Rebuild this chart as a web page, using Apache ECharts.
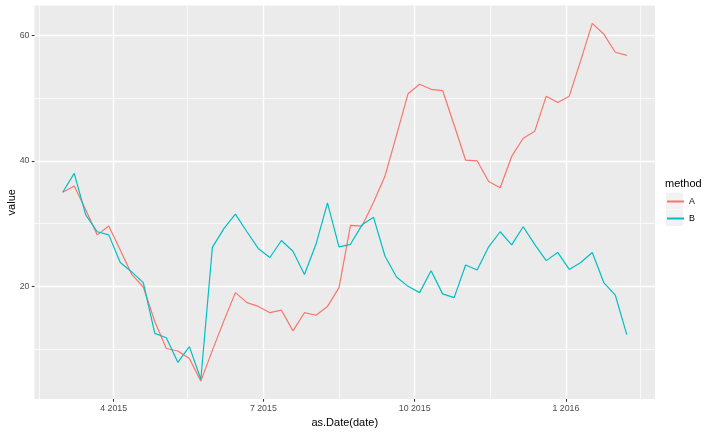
<!DOCTYPE html>
<html>
<head>
<meta charset="utf-8">
<title>value by method</title>
<script src="https://cdn.jsdelivr.net/npm/echarts@6.0.0/dist/echarts.min.js"></script>
<style>
  html, body { margin: 0; padding: 0; background: #fff; }
  #chart { width: 720px; height: 432px; }
</style>
</head>
<body>
<div id="chart"></div>
<script>
// weekly observations
const dates = [
  '2015-03-01', '2015-03-08', '2015-03-15', '2015-03-22', '2015-03-29',
  '2015-04-05', '2015-04-12', '2015-04-19', '2015-04-26',
  '2015-05-03', '2015-05-10', '2015-05-17', '2015-05-24', '2015-05-31',
  '2015-06-07', '2015-06-14', '2015-06-21', '2015-06-28',
  '2015-07-05', '2015-07-12', '2015-07-19', '2015-07-26',
  '2015-08-02', '2015-08-09', '2015-08-16', '2015-08-23', '2015-08-30',
  '2015-09-06', '2015-09-13', '2015-09-20', '2015-09-27',
  '2015-10-04', '2015-10-11', '2015-10-18', '2015-10-25',
  '2015-11-01', '2015-11-08', '2015-11-15', '2015-11-22', '2015-11-29',
  '2015-12-06', '2015-12-13', '2015-12-20', '2015-12-27',
  '2016-01-03', '2016-01-10', '2016-01-17', '2016-01-24', '2016-01-31',
  '2016-02-07'
]
const methodA = [
  35.0, 36.0, 32.2, 28.2, 29.6, 25.8, 21.9, 19.9, 14.4, 10.1,
  9.7, 8.5, 4.9, 9.8, 14.5, 19.0, 17.4, 16.8, 15.8, 16.2,
  12.9, 15.8, 15.4, 16.8, 19.8, 29.7, 29.6, 33.4, 37.6, 44.1,
  50.7, 52.2, 51.4, 51.2, 45.7, 40.1, 40.0, 36.7, 35.7, 40.7,
  43.6, 44.7, 50.3, 49.3, 50.3, 56.0, 61.9, 60.2, 57.3, 56.8
]
const methodB = [
  35.0, 38.0, 31.4, 28.7, 28.2, 23.8, 22.3, 20.6, 12.5, 11.8,
  7.9, 10.4, 5.2, 26.2, 29.2, 31.5, 28.7, 26.0, 24.6, 27.3,
  25.6, 21.9, 26.7, 33.3, 26.3, 26.7, 29.8, 31.0, 24.8, 21.5,
  20.0, 19.0, 22.5, 18.8, 18.2, 23.4, 22.6, 26.3, 28.7, 26.6,
  29.5, 26.7, 24.1, 25.4, 22.7, 23.8, 25.4, 20.6, 18.6, 12.3
]
const xBreaks = ['2015-04-01', '2015-07-01', '2015-10-01', '2016-01-01']
const xMinorBreaks = ['2015-02-15', '2015-05-16', '2015-08-16', '2015-11-16', '2016-02-15']
const yBreaks = [20, 40, 60]
const yMinorBreaks = [10, 30, 50]

// days since epoch, so the x axis can be a plain value axis
function toDay(s) {
  const p = s.split('-').map(Number)
  return Date.UTC(p[0], p[1] - 1, p[2]) / 86400000
}

const xs = dates.map(toDay)
const xPad = (xs[xs.length - 1] - xs[0]) * 0.05
const allValues = methodA.concat(methodB)
const yLo = Math.min(...allValues)
const yHi = Math.max(...allValues)
const yPad = (yHi - yLo) * 0.05

const font = 'Liberation Sans, Arial, sans-serif'

const chart = echarts.init(document.getElementById('chart'))
chart.setOption({
  animation: false,
  textStyle: { fontFamily: font },
  title: {
    text: 'method',
    left: 665,
    top: 178,
    padding: 0,
    textStyle: { fontSize: 11, fontWeight: 'normal', color: '#000', fontFamily: font }
  },
  legend: {
    data: ['A', 'B'],
    orient: 'vertical',
    left: 666,
    top: 193,
    padding: 0,
    itemGap: 0,
    itemWidth: 17,
    itemHeight: 17,
    itemStyle: { opacity: 0 },
    textStyle: { fontSize: 8.8, color: '#000', fontFamily: font, height: 17, lineHeight: 17 }
  },
  graphic: [
    { type: 'rect', left: 666, top: 192.5, shape: { width: 17, height: 16.5 }, style: { fill: '#F2F2F2' } },
    { type: 'rect', left: 666, top: 209.5, shape: { width: 17, height: 16.5 }, style: { fill: '#F2F2F2' } }
  ],
  grid: {
    left: 34.5,
    right: 65,
    top: 5.5,
    bottom: 33,
    containLabel: false,
    outerBoundsMode: 'none',
    show: true,
    backgroundColor: '#EBEBEB',
    borderWidth: 0
  },
  xAxis: [
    {
      type: 'value',
      min: xs[0] - xPad,
      max: xs[xs.length - 1] + xPad,
      name: 'as.Date(date)',
      nameLocation: 'middle',
      nameGap: 16,
      nameTextStyle: { color: '#000', fontSize: 11, fontFamily: font },
      axisLine: { show: false },
      axisTick: {
        show: true,
        customValues: xBreaks.map(toDay),
        length: 2.75,
        lineStyle: { color: '#333333', width: 1.07 }
      },
      axisLabel: {
        customValues: xBreaks.map(toDay),
        margin: 5,
        fontSize: 8.8,
        color: '#4D4D4D',
        fontFamily: font,
        formatter: function (v) {
          const d = new Date(v * 86400000)
          return (d.getUTCMonth() + 1) + ' ' + d.getUTCFullYear()
        }
      },
      splitLine: { show: true, lineStyle: { color: '#FFFFFF', width: 1.4 } }
    },
    {
      type: 'value',
      min: xs[0] - xPad,
      max: xs[xs.length - 1] + xPad,
      position: 'bottom',
      axisLine: { show: false },
      axisTick: { show: false, customValues: xMinorBreaks.map(toDay) },
      axisLabel: { show: false, customValues: xMinorBreaks.map(toDay) },
      splitLine: { show: true, lineStyle: { color: '#FFFFFF', width: 0.7 } }
    }
  ],
  yAxis: [
    {
      type: 'value',
      min: yLo - yPad,
      max: yHi + yPad,
      name: 'value',
      nameLocation: 'middle',
      nameGap: 17,
      nameMoveOverlap: false,
      nameRotate: 90,
      nameTextStyle: { color: '#000', fontSize: 11, fontFamily: font },
      axisLine: { show: false },
      axisTick: {
        show: true,
        customValues: yBreaks,
        length: 2.75,
        lineStyle: { color: '#333333', width: 1.07 }
      },
      axisLabel: {
        customValues: yBreaks,
        margin: 5,
        fontSize: 8.8,
        color: '#4D4D4D',
        fontFamily: font
      },
      splitLine: { show: true, lineStyle: { color: '#FFFFFF', width: 1.4 } }
    },
    {
      type: 'value',
      min: yLo - yPad,
      max: yHi + yPad,
      position: 'left',
      axisLine: { show: false },
      axisTick: { show: false, customValues: yMinorBreaks },
      axisLabel: { show: false, customValues: yMinorBreaks },
      splitLine: { show: true, lineStyle: { color: '#FFFFFF', width: 0.7 } }
    }
  ],
  series: [
    {
      name: 'A',
      type: 'line',
      data: xs.map((x, i) => [x, methodA[i]]),
      symbol: 'none',
      showSymbol: false,
      lineStyle: { color: '#F8766D', width: 1.2 },
      itemStyle: { color: '#F8766D' }
    },
    {
      name: 'B',
      type: 'line',
      data: xs.map((x, i) => [x, methodB[i]]),
      symbol: 'none',
      showSymbol: false,
      lineStyle: { color: '#00BFC4', width: 1.2 },
      itemStyle: { color: '#00BFC4' }
    }
  ]
})
</script>
</body>
</html>
